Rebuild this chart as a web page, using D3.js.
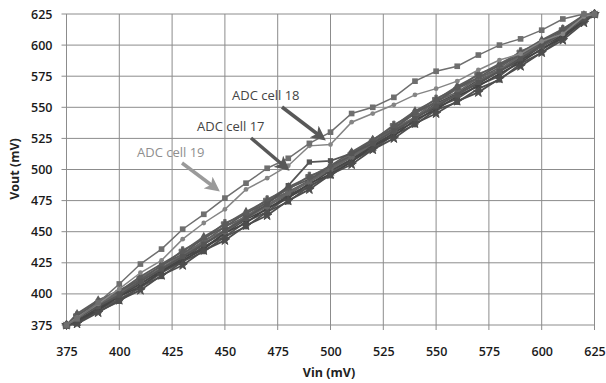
<!DOCTYPE html>
<html><head><meta charset="utf-8">
<script src="https://cdn.jsdelivr.net/npm/d3@7"></script>
<style>
html,body{margin:0;padding:0;background:#fff;}
svg{display:block;font-family:"Open Sans",sans-serif;}
</style></head>
<body><svg id="c" width="606" height="383"></svg>
<script>
const vin = [375,380,390,400,410,420,430,440,450,460,470,480,490,500,510,520,530,540,550,560,570,580,590,600,610,620,625];
const ticks = [375,400,425,450,475,500,525,550,575,600,625];

const cell19 = [375,380,393,408,424,436,452,464,477,489,501,509,521,530,545,550,558,571,579,583,592,600,605,612,621,625,625];
const cell18 = [375,381,392,404,417,427,444,457,468,484,493,503,519,520,538,545,552,560,565,571,580,588,593,603,609,623,625];
const cell17 = [375,380,390,399,410,420,430,440,451,461,472,487,506,507,513,521,531,541,551,560,570,579,589,600,610,621,625];

const s1  = [375,378,389,399,408,419,428,440,450,462,471,480,491,499,508,520,532,541,553,561,572,579,590,600,611,621,625];
const s2  = [375,381,392,401,412,420,432,442,454,462,474,482,491,502,510,522,533,545,554,565,573,582,593,601,610,622,625];
const s3  = [375,376,387,396,405,417,426,438,446,458,466,478,486,497,508,517,530,538,550,557,568,575,588,596,608,620,625];
const s4  = [375,383,393,402,413,422,435,444,457,464,476,484,495,501,513,523,536,545,557,565,577,583,595,602,613,623,625];
const s5  = [375,379,388,399,408,419,429,437,449,460,468,479,488,499,508,520,529,542,550,561,569,579,588,599,608,620,625];
const s6  = [375,380,391,400,411,420,430,443,451,463,471,482,490,501,510,520,533,542,555,562,574,580,592,600,611,622,625];
const s7  = [375,377,386,394,406,414,426,434,446,454,466,474,487,495,507,516,528,536,548,554,565,572,585,594,606,619,625];
const s8  = [375,382,394,403,411,423,432,445,454,465,473,485,492,503,511,524,533,546,554,566,574,584,592,603,612,624,625];
const s9  = [375,378,387,398,406,418,427,436,449,457,469,477,489,496,506,519,527,540,548,559,567,577,586,597,606,620,625];
const s10 = [375,381,391,400,410,421,431,441,450,461,470,481,490,500,510,521,531,541,552,560,571,580,591,599,610,621,625];
const s11 = [375,376,385,395,403,415,423,435,443,455,463,475,484,496,504,516,525,537,545,555,562,573,583,594,604,618,625];
const s12 = [375,384,395,402,414,424,434,446,456,466,475,486,494,503,514,524,535,547,556,567,576,585,594,604,613,624,625];

const bundle = [
  {v:s1, c:"#4a4a4a", m:d3.symbolDiamond},
  {v:s2, c:"#5e5e5e", m:d3.symbolSquare},
  {v:s3, c:"#555555", m:d3.symbolTriangle},
  {v:s4, c:"#6a6a6a", m:d3.symbolCross},
  {v:s5, c:"#474747", m:d3.symbolCircle},
  {v:s6, c:"#636363", m:d3.symbolDiamond},
  {v:s7, c:"#505050", m:d3.symbolSquare},
  {v:s8, c:"#5a5a5a", m:d3.symbolTriangle},
  {v:s9, c:"#444444", m:d3.symbolTimes},
  {v:s10,c:"#666666", m:d3.symbolCircle},
  {v:s11,c:"#4d4d4d", m:d3.symbolStar},
  {v:s12,c:"#5b5b5b", m:d3.symbolDiamond},
  {v:cell17,c:"#555555", m:d3.symbolSquare}
];
const outliers = [
  {v:cell18, c:"#858585", m:d3.symbolCircle, s:18},
  {v:cell19, c:"#6f6f6f", m:d3.symbolSquare, s:32}
];

const svg = d3.select("#c");
const L=66.5, R=594.5, T=14, B=325;
const x = d3.scaleLinear().domain([375,625]).range([L,R]);
const y = d3.scaleLinear().domain([375,625]).range([B,T]);

const g = svg.append("g");
ticks.forEach(t=>{
  g.append("line").attr("x1",x(t)).attr("x2",x(t)).attr("y1",T).attr("y2",B+5).attr("stroke","#8c8c8c").attr("stroke-width",1);
  g.append("line").attr("x1",L-5).attr("x2",R).attr("y1",y(t)).attr("y2",y(t)).attr("stroke","#8c8c8c").attr("stroke-width",1);
});

const xa = svg.append("g").attr("transform",`translate(0,${B})`)
  .call(d3.axisBottom(x).tickValues(ticks).tickSize(0).tickPadding(22));
xa.select(".domain").remove();
xa.selectAll("text").attr("font-size","12.5px").attr("fill","#1a1a1a").attr("font-weight","600").attr("font-family","Open Sans");
const ya = svg.append("g").attr("transform",`translate(${L},0)`)
  .call(d3.axisLeft(y).tickValues(ticks).tickSize(0).tickPadding(14));
ya.select(".domain").remove();
ya.selectAll("text").attr("font-size","12.5px").attr("fill","#1a1a1a").attr("font-weight","600").attr("font-family","Open Sans");

svg.append("text").attr("x",329).attr("y",377).attr("text-anchor","middle")
  .attr("font-size","12.5px").attr("font-weight","bold").attr("fill","#222").text("Vin (mV)");
svg.append("text").attr("transform","translate(19,169) rotate(-90)").attr("text-anchor","middle")
  .attr("font-size","12.5px").attr("font-weight","bold").attr("fill","#222").text("Vout (mV)");

const line = d3.line().x((d,i)=>x(vin[i])).y(d=>y(d));
function drawSeries(s, size, w){
  svg.append("path").datum(s.v).attr("d",line).attr("fill","none").attr("stroke",s.c).attr("stroke-width",w);
  const sym = d3.symbol().type(s.m).size(size);
  const isLine = (s.m===d3.symbolCross||s.m===d3.symbolTimes||s.m===d3.symbolStar);
  svg.append("g").selectAll("path").data(s.v).join("path")
    .attr("transform",(d,i)=>`translate(${x(vin[i])},${y(d)})`)
    .attr("d",sym).attr("fill",s.c).attr("stroke",s.c).attr("stroke-width",isLine?1:0);
}
bundle.forEach(s=>drawSeries(s,28,1.8));
outliers.forEach(s=>drawSeries(s,s.s,1.5));

const defs = svg.append("defs");
function marker(id,col){
  defs.append("marker").attr("id",id).attr("viewBox","0 0 10 10").attr("refX",5).attr("refY",5)
    .attr("markerWidth",4.2).attr("markerHeight",4.2).attr("orient","auto")
    .append("path").attr("d","M0,0 L10,5 L0,10 L2.5,5 Z").attr("fill",col);
}
marker("a1","#585858"); marker("a2","#9a9a9a");
function arrow(x1,y1,x2,y2,col,id){
  svg.append("line").attr("x1",x1).attr("y1",y1).attr("x2",x2).attr("y2",y2)
    .attr("stroke",col).attr("stroke-width",3.5).attr("marker-end",`url(#${id})`);
}
arrow(282,107,320,136,"#585858","a1");
arrow(251,138,284,166,"#585858","a1");
arrow(182,163,214,187,"#9a9a9a","a2");
svg.append("text").attr("x",232).attr("y",100).attr("font-size","13px").attr("fill","#444").text("ADC cell 18");
svg.append("text").attr("x",197).attr("y",131).attr("font-size","13px").attr("fill","#444").text("ADC cell 17");
svg.append("text").attr("x",137).attr("y",157).attr("font-size","13px").attr("fill","#8f8f8f").text("ADC cell 19");
</script></body></html>
